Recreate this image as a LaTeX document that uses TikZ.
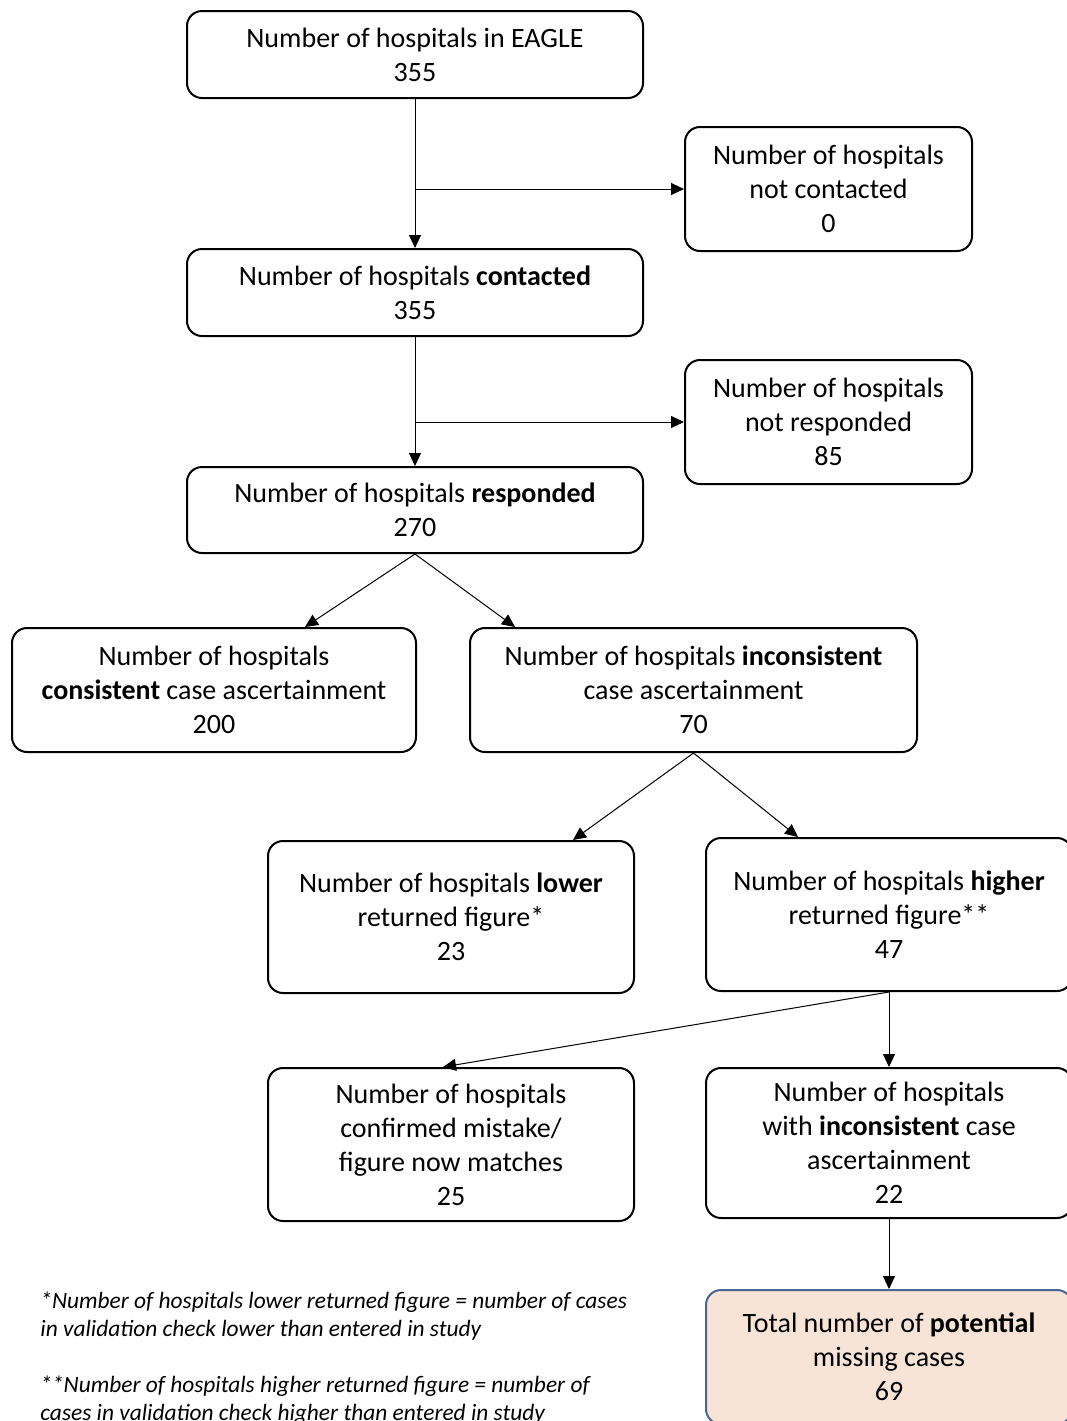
\documentclass[tikz,border=0pt]{standalone}
\usepackage{fontspec}
\setmainfont{Carlito}
\usetikzlibrary{arrows.meta,calc}
\definecolor{peach}{RGB}{248,228,214}
\definecolor{steel}{RGB}{70,102,150}

\begin{document}
\begin{tikzpicture}[x=0.5pt,y=-0.5pt,
    box/.style={draw,line width=1pt,rounded corners=7.5pt,align=center,inner sep=0pt,
      font=\fontsize{14}{17}\selectfont},
    arr/.style={-{Triangle[length=6.5pt,width=6pt]},line width=0.5pt},
    note/.style={align=left,inner sep=0pt,font=\fontsize{11.7}{14}\selectfont\itshape}]
  \useasboundingbox (0,0) rectangle (1067,1421);
  \clip (0,0) rectangle (1067,1421);

  % main column
  \node[box,minimum width=228pt,minimum height=43.5pt] (eagle) at (415,54.5)
    {Number of hospitals in EAGLE\\355};
  \node[box,minimum width=143.5pt,minimum height=62pt] (notcont) at (828.5,189)
    {Number of hospitals\\not contacted\\0};
  \node[box,minimum width=228pt,minimum height=43.5pt] (contacted) at (415,292.5)
    {Number of hospitals \textbf{contacted}\\355};
  \node[box,minimum width=143.5pt,minimum height=62pt] (notresp) at (828.5,422)
    {Number of hospitals\\not responded\\85};
  \node[box,minimum width=228pt,minimum height=43pt] (responded) at (415,510)
    {Number of hospitals \textbf{responded}\\270};

  % split
  \node[box,minimum width=202pt,minimum height=62pt] (consistent) at (214,690)
    {Number of hospitals\\\textbf{consistent} case ascertainment\\200};
  \node[box,minimum width=223.5pt,minimum height=62pt] (inconsistent) at (693.5,690)
    {Number of hospitals \textbf{inconsistent}\\case ascertainment\\70};
  \node[box,minimum width=183pt,minimum height=76pt] (lower) at (451,917)
    {Number of hospitals \textbf{lower}\\returned figure*\\23};
  \node[box,minimum width=183pt,minimum height=76.5pt] (higher) at (889,914.5)
    {Number of hospitals \textbf{higher}\\returned figure**\\47};
  \node[box,minimum width=183pt,minimum height=76.5pt] (mistake) at (451,1144.5)
    {Number of hospitals\\confirmed mistake/\\figure now matches\\25};
  \node[box,minimum width=183pt,minimum height=75pt] (withinc) at (889,1143)
    {Number of hospitals\\with \textbf{inconsistent} case\\ascertainment\\22};
  \node[box,draw=steel,fill=peach,minimum width=183pt,minimum height=67pt] (total) at (889,1357)
    {Total number of \textbf{potential}\\missing cases\\69};

  % footnotes
  \node[note,anchor=north west] (notes) at (40,1291)
    {*Number of hospitals lower returned figure = number of cases\\
     in validation check lower than entered in study\\[14pt]
     **Number of hospitals higher returned figure = number of\\
     cases in validation check higher than entered in study};

  % arrows
  \draw[arr] (eagle.south) -- (contacted.north);
  \draw[arr] (eagle.south |- notcont.west) -- (notcont.west);
  \draw[arr] (contacted.south) -- (responded.north);
  \draw[arr] (contacted.south |- notresp.west) -- (notresp.west);
  \draw[arr] (responded.south) -- ($(consistent.north)+(91,0)$);
  \draw[arr] (responded.south) -- ($(inconsistent.north)+(-178.5,0)$);
  \draw[arr] (inconsistent.south) -- ($(lower.north)+(122,0)$);
  \draw[arr] (inconsistent.south) -- ($(higher.north)+(-91,0)$);
  \draw[arr] (higher.south) -- ($(mistake.north)+(-8,0)$);
  \draw[arr] (higher.south) -- (withinc.north);
  \draw[arr] (withinc.south) -- (total.north);
\end{tikzpicture}
\end{document}
